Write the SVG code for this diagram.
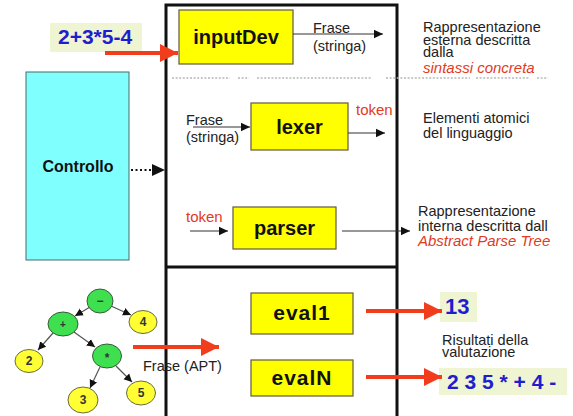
<svg xmlns="http://www.w3.org/2000/svg" width="573" height="416" viewBox="0 0 573 416">
  <defs>
    <style>
      .box { fill: #ffff00; stroke: #6f6646; stroke-width: 1.3; }
      .lbl { font-family: "Liberation Sans", Arial, sans-serif; font-weight: bold; font-size: 20px; fill: #111; text-anchor: middle; }
      .txt { font-family: "Liberation Sans", Arial, sans-serif; font-size: 14.5px; fill: #222; }
      .red { fill: #e23a1e; }
      .ital { font-style: italic; }
      .blue { font-family: "Liberation Sans", Arial, sans-serif; font-weight: bold; font-size: 21px; fill: #1e1ed0; }
      .pale { fill: #eff4d2; }
      .thin { stroke: #333; stroke-width: 1.2; fill: none; marker-end: url(#ah); }
      .fat { stroke: #f23d1c; stroke-width: 4; fill: none; marker-end: url(#rh); }
      .edge { stroke: #555; stroke-width: 1.2; fill: none; marker-end: url(#th); }
      .gnode { fill: #3fe050; stroke: #3a5a3a; stroke-width: 1; }
      .ynode { fill: #ffff33; stroke: #6a6a40; stroke-width: 1; }
      .nlbl { font-family: "Liberation Sans", Arial, sans-serif; font-weight: bold; font-size: 12px; fill: #333; text-anchor: middle; }
    </style>
    <marker id="ah" markerUnits="userSpaceOnUse" markerWidth="10" markerHeight="10" refX="9" refY="5" orient="auto">
      <path d="M0,0.8 L9,5 L0,9.2 Z" fill="#111"/>
    </marker>
    <marker id="th" markerUnits="userSpaceOnUse" markerWidth="9" markerHeight="9" refX="8" refY="4.5" orient="auto">
      <path d="M0,0.5 L8,4.5 L0,8.5 Z" fill="#111"/>
    </marker>
    <marker id="rh" markerUnits="userSpaceOnUse" markerWidth="20" markerHeight="20" refX="18" refY="9" orient="auto">
      <path d="M0,0 L18,9 L0,18 Z" fill="#f23d1c"/>
    </marker>
  </defs>

  <rect width="573" height="416" fill="#ffffff"/>

  <!-- main frame with the horizontal divider -->
  <g id="frame">
    <rect x="166" y="5" width="231" height="420" fill="none" stroke="#111" stroke-width="3"/>
    <line x1="166" y1="267" x2="397" y2="267" stroke="#111" stroke-width="3"/>
    <g stroke="#b8b8b8" stroke-width="1.5" stroke-dasharray="2 1.6">
      <line x1="172" y1="78" x2="230" y2="78"/>
      <line x1="238" y1="78" x2="249" y2="78"/>
      <line x1="257" y1="78" x2="372" y2="78"/>
      <line x1="386" y1="78" x2="470" y2="78"/>
      <line x1="476" y1="78" x2="530" y2="78"/>
      <line x1="537" y1="78" x2="548" y2="78"/>
    </g>
  </g>

  <g id="input-expr">
    <rect class="pale" x="50" y="23" width="92" height="29"/>
    <text class="blue" x="58" y="44">2+3*5-4</text>
  </g>

  <g id="inputDev">
    <rect class="box" x="179" y="10" width="114" height="54"/>
    <text class="lbl" x="236" y="44">inputDev</text>
  </g>

  <g id="controllo">
    <rect x="26" y="72" width="103" height="188" fill="#80ffff" stroke="#4a6a6a" stroke-width="1"/>
    <text class="lbl" x="78" y="172" style="font-size:16px">Controllo</text>
  </g>

  <g id="lexer">
    <rect class="box" x="251" y="103" width="97" height="47"/>
    <text class="lbl" x="299.5" y="134">lexer</text>
  </g>

  <g id="parser">
    <rect class="box" x="233" y="207" width="103" height="42"/>
    <text class="lbl" x="284.5" y="235">parser</text>
  </g>

  <g id="eval1">
    <rect class="box" x="251" y="293" width="102" height="41"/>
    <text class="lbl" x="302" y="320" style="font-size:21px;letter-spacing:1px">eval1</text>
  </g>

  <g id="evalN">
    <rect class="box" x="251" y="360" width="102" height="36"/>
    <text class="lbl" x="302" y="385" style="font-size:21px;letter-spacing:1px">evalN</text>
  </g>

  <g id="result-13">
    <rect class="pale" x="440" y="292" width="37" height="30"/>
    <text class="blue" x="445" y="314" style="font-size:22px">13</text>
  </g>

  <g id="result-postfix">
    <rect class="pale" x="439" y="368" width="128" height="27"/>
    <text class="blue" x="447" y="389">2 3 5 * + 4 -</text>
  </g>

  <!-- descriptions -->
  <g id="desc-external">
    <text class="txt" x="423" y="32">Rappresentazione</text>
    <text class="txt" x="423" y="45">esterna descritta</text>
    <text class="txt" x="423" y="57">dalla</text>
    <text class="txt red ital" x="423" y="73" style="font-size:15px">sintassi concreta</text>
  </g>

  <g id="desc-atomic">
    <text class="txt" x="423" y="123">Elementi atomici</text>
    <text class="txt" x="423" y="138">del linguaggio</text>
  </g>

  <g id="desc-internal">
    <text class="txt" x="418" y="216">Rappresentazione</text>
    <text class="txt" x="418" y="231">interna descritta dall</text>
    <text class="txt red ital" x="418" y="246" style="font-size:15px">Abstract Parse Tree</text>
  </g>

  <g id="desc-results">
    <text class="txt" x="442" y="345">Risultati della</text>
    <text class="txt" x="442" y="357">valutazione</text>
  </g>

  <!-- abstract parse tree -->
  <g id="tree">
    <g class="edge">
      <line x1="90" y1="307" x2="75" y2="316"/>
      <line x1="111" y1="306" x2="131" y2="315"/>
      <line x1="53" y1="333" x2="38" y2="350"/>
      <line x1="74" y1="332" x2="95" y2="347"/>
      <line x1="100" y1="367" x2="90" y2="388"/>
      <line x1="116" y1="366" x2="132" y2="382"/>
    </g>
    <g id="n-minus">
      <ellipse class="gnode" cx="100" cy="301" rx="13" ry="12"/>
      <text class="nlbl" x="100" y="305">−</text>
    </g>
    <g id="n-plus">
      <ellipse class="gnode" cx="63" cy="324" rx="15" ry="12"/>
      <text class="nlbl" x="63" y="328" style="font-size:10px">+</text>
    </g>
    <g id="n-4">
      <ellipse class="ynode" cx="143" cy="322" rx="14" ry="11.5"/>
      <text class="nlbl" x="143" y="326">4</text>
    </g>
    <g id="n-2">
      <ellipse class="ynode" cx="29" cy="361" rx="14" ry="11.5"/>
      <text class="nlbl" x="29" y="365">2</text>
    </g>
    <g id="n-times">
      <ellipse class="gnode" cx="107" cy="356" rx="14.5" ry="12"/>
      <text class="nlbl" x="107" y="362">*</text>
    </g>
    <g id="n-3">
      <ellipse class="ynode" cx="83" cy="400" rx="15" ry="13"/>
      <text class="nlbl" x="83" y="404">3</text>
    </g>
    <g id="n-5">
      <ellipse class="ynode" cx="141" cy="393" rx="14.5" ry="12"/>
      <text class="nlbl" x="141" y="397">5</text>
    </g>
  </g>

  <!-- connectors -->
  <g id="connectors">
    <line class="fat" x1="105" y1="53" x2="178" y2="53"/>
    <line class="thin" x1="293" y1="34" x2="383" y2="34"/>
    <text class="txt" x="313" y="33">Frase</text>
    <text class="txt" x="313" y="51">(stringa)</text>

    <line x1="131" y1="170" x2="152" y2="170" stroke="#111" stroke-width="2" stroke-dasharray="2 2.5"/>
    <path d="M152,164 L165,170 L152,176 Z" fill="#111"/>

    <line class="thin" x1="193" y1="127" x2="250" y2="127"/>
    <text class="txt" x="186" y="125">Frase</text>
    <text class="txt" x="186" y="142">(stringa)</text>

    <line class="thin" x1="348" y1="133" x2="385" y2="133"/>
    <text class="txt red" x="356" y="115" style="font-size:15px">token</text>

    <line class="thin" x1="190" y1="231" x2="228" y2="231"/>
    <text class="txt red" x="186" y="222" style="font-size:15px">token</text>

    <line class="thin" x1="342" y1="231" x2="410" y2="231"/>

    <line class="fat" x1="133" y1="347" x2="219" y2="347"/>
    <text class="txt" x="143" y="371">Frase (APT)</text>

    <line class="fat" x1="366" y1="311" x2="442" y2="311"/>
    <line class="fat" x1="366" y1="377" x2="442" y2="377"/>
  </g>
</svg>
